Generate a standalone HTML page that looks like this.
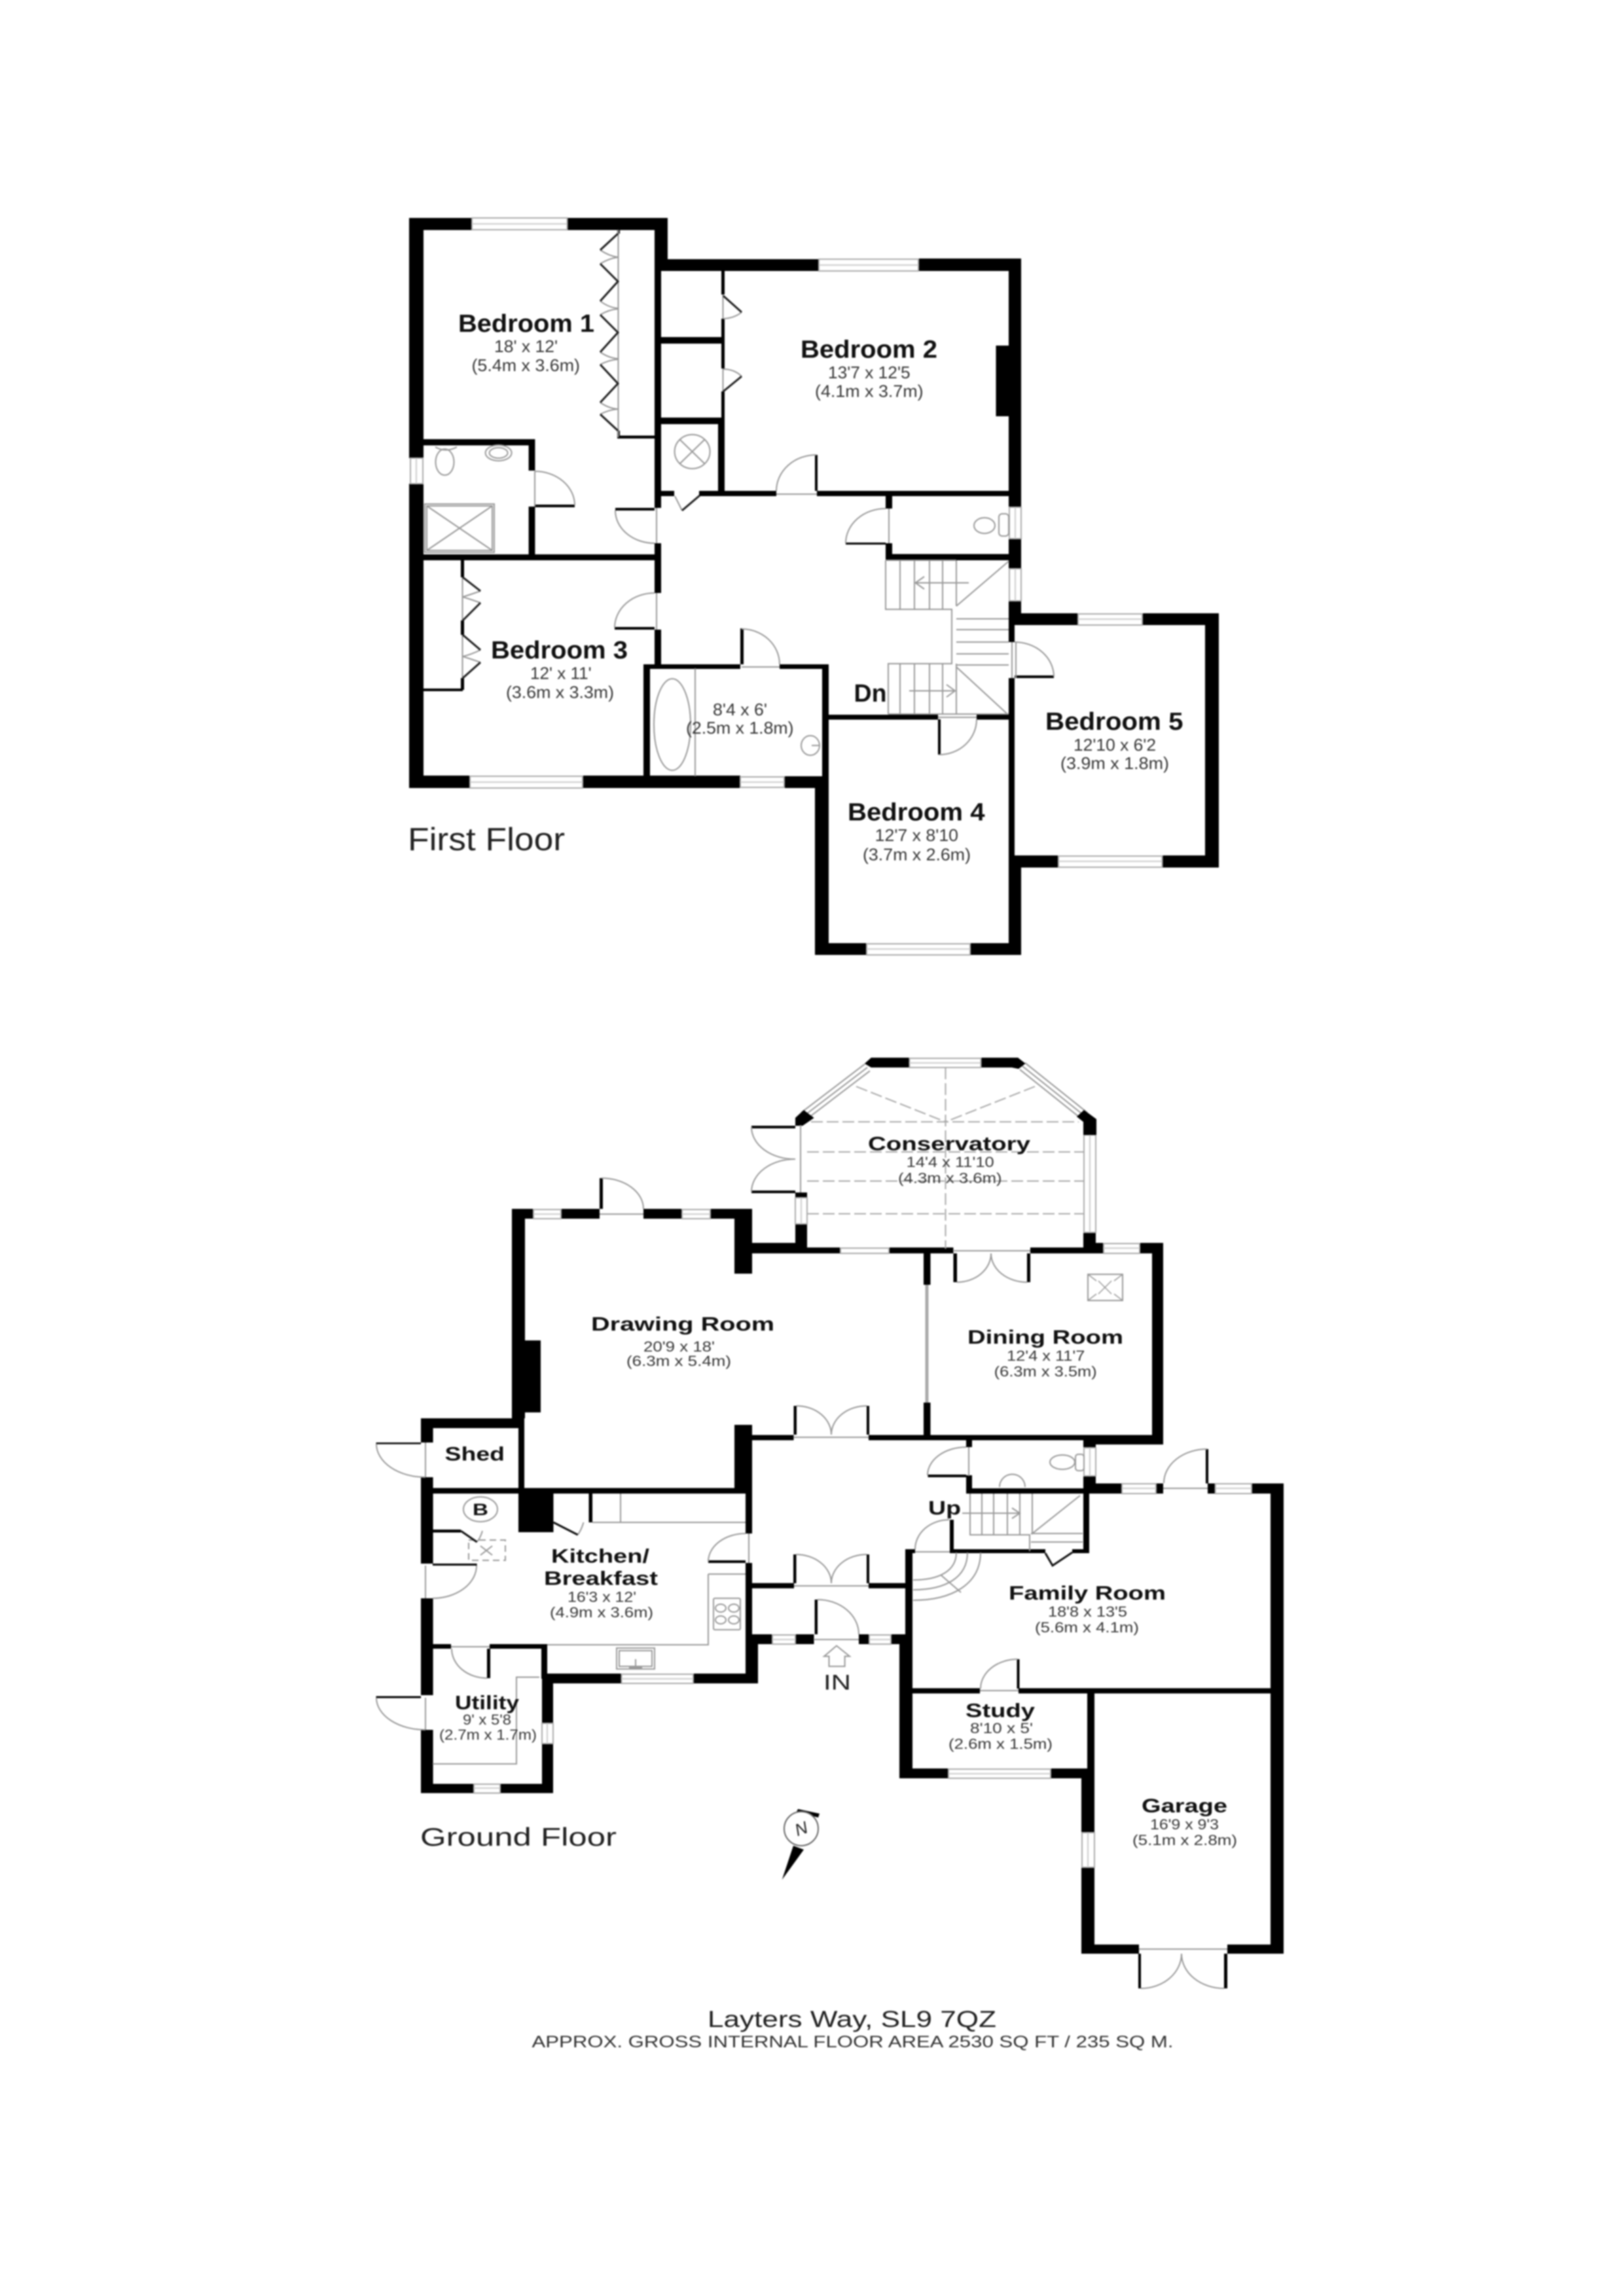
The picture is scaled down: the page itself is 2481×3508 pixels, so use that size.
<!DOCTYPE html>
<html lang="en"><head><meta charset="utf-8"><title>Layters Way floor plan</title>
<style>
html,body{margin:0;padding:0;background:#fff}
svg{display:block;filter:blur(1px)}
text{font-family:"Liberation Sans",Arial,sans-serif}
.b{font-weight:bold;fill:#111}
.d{fill:#383838}
.g{fill:none;stroke:#999;stroke-width:2}
.k{fill:none;stroke:#111;stroke-width:3}
.w{fill:#fff;stroke:#aaa;stroke-width:2}
.m{fill:none;stroke:#ccc;stroke-width:2}
.da{fill:none;stroke:#aaa;stroke-width:2;stroke-dasharray:18 6}
</style></head><body>
<svg xmlns="http://www.w3.org/2000/svg" width="2481" height="3508" viewBox="0 0 2481 3508">
<rect width="2481" height="3508" fill="#fff"/>

<!-- FIRST FLOOR WALLS -->
<path fill="#000" d="
M625 333H721V351.5H625Z M866.5 333H1020V351.5H866.5Z
M1000 333H1020V414H1000Z M1000 414H1010V776H1000Z M1000 830H1010V906H1000Z M1000 962H1010V1015H1000Z
M625 333H647V700H625Z M625 739H647V1204H625Z
M1000 396H1251V414H1000Z M1403 395H1560V414H1403Z
M1541 395H1560V775H1541Z M1541 823H1560V869H1541Z M1541 918H1560V955H1541Z
M647 671H817V680.5H647Z M807.6 671H817.4V719H807.6Z M807.6 774H817.4V848H807.6Z
M647 847H1000V856H647Z
M625 1185H718V1204H625Z M890 1185H1131V1204H890Z M1198 1186H1266V1204H1198Z
M983 1015H1131V1022H983Z M1191 1015H1266V1022H1191Z M983 1015H993V1185H983Z M1256 1015H1266V1186H1256Z
M1256 1092H1433V1099.5H1256Z M1492 1092H1541V1099.5H1492Z
M1245 1186H1266V1459H1245Z M1245 1441H1324V1459H1245Z M1482 1441H1560V1459H1482Z
M1541 1307H1560V1459H1541Z M1541 955H1550V981H1541Z M1541 1036H1550V1307H1541Z
M1560 937H1647V955H1560Z M1745 937H1862V955H1745Z M1841 937H1862V1325.5H1841Z
M1560 1307H1617V1325.5H1560Z M1775.5 1307H1862V1325.5H1775.5Z
M1521.5 528H1541V636H1521.5Z
M1102 414H1107V450H1102Z M1102 487H1107V563H1102Z M1102 598H1107V648H1102Z M1097 648H1107V753H1097Z
M1010 515H1102V525H1010Z M1010 638H1102V648H1010Z
M1010 750H1030V758H1010Z M1068 750H1186V758H1068Z M1248 750H1541V758H1248Z
M1245 695H1249V750H1245Z
M1353 758H1363V777H1353Z M1353 830H1363V856H1353Z M1353 846.5H1541V856H1353Z
M1292 829H1353V832H1292Z
M943 658H947V670H943Z M943 665.5H1000V670H943Z M943 351H947V357H943Z
M817 771H878V775H817Z M940 776H1000V780H940Z M939 958H1000V962H939Z
M1433 1099H1437V1153H1433Z M1550 1032H1610V1036H1550Z M1131 960H1136V1015H1131Z
M704 856H709V882H704Z M704 948H709V970H704Z M704 1036H709V1054H704Z M647 1052H707V1056H647Z
"/>

<!-- GROUND FLOOR WALLS -->
<path fill="#000" d="
M782 1847H815V1862H782Z M857 1847H916V1862H857Z M983 1847H1042V1862H983Z M1085 1847H1149V1862H1085Z
M782 1847H802V2167H782Z M792 2167H801V2282H792Z M802 2048H826V2158H802Z
M916 1800H921V1847H916Z
M643 2167H801V2182H643Z M643 2167H661.6V2204H643Z M643 2257H661.6V2389H643Z M643 2442H661.6V2590H643Z M643 2643H661.6V2739.6H643Z
M661 2273.5H1139V2282H661Z M792 2282H845.5V2341H792Z
M1122 1847H1149V1946H1122Z M1122 2177H1149V2282H1122Z
M1149 1899H1233V1915H1149Z M1233 1906H1284V1915H1233Z M1358 1906H1456.5V1915H1358Z M1574 1906H1655V1915H1574Z M1655 1899H1686V1915H1655Z
M1215 1822H1233V1830H1215Z M1215 1870H1233V1908H1215Z M1655 1883H1674V1912H1655Z
M1148 1720H1215V1724H1148Z M1148 1819H1215V1823H1148Z
M1411 1915H1421.5V1963H1411Z M1411 2143H1421.5V2196H1411Z
M1456.5 1915H1462V1959H1456.5Z M1569 1915H1574V1959H1569Z
M1741 1899H1777V1915H1741Z M1760 1899H1777V2207H1760Z
M1149 2192.5H1212.5V2200.5H1149Z M1327 2192.5H1777V2200.5H1327Z M1655 2200H1777V2207H1655Z
M1476 2200H1485V2211H1476Z M1476 2254H1485V2282H1476Z M1476 2274H1674V2282H1476Z
M1655 2200H1674V2212H1655Z M1655 2255H1674V2282H1655Z
M1674 2266.5H1714V2282H1674Z M1766 2266.5H1777V2282H1766Z M1845 2266.5H1856.6V2282H1845Z M1912 2266.5H1961V2282H1912Z
M1941 2266.5H1961V2985H1941Z
M1417.5 2253H1476V2257H1417.5Z M1842 2214H1846V2266.5H1842Z
M1655 2282H1664V2373H1655Z M1451 2322H1457V2373H1451Z M1451 2367H1597V2373H1451Z M1638 2367H1664V2373H1638Z
M1383 2367H1398V2373H1383Z M1383 2367H1394V2497H1383Z M1374 2497H1394V2717H1374Z
M1149 2418.7H1213V2426.7H1149Z M1327 2418.7H1383V2426.7H1327Z
M1212 2375H1216.5V2419H1212Z M1324 2375H1328V2419H1324Z
M1212.5 2148H1217V2192H1212.5Z M1324 2148H1328V2192H1324Z
M1141 2497H1180V2512H1141Z M1215 2497H1243.5V2512H1215Z M1312 2497H1328V2512H1312Z M1361 2497H1394V2512H1361Z
M1139 2282H1149V2343H1139Z M1139 2388H1149V2497H1139Z M1139 2497H1158V2572H1139Z
M1244.6 2444H1249V2497H1244.6Z
M1394 2579.4H1497V2587.4H1394Z M1556 2579.4H1941V2587.4H1556Z M1553.5 2535H1557.5V2580H1553.5Z
M1661 2587H1672V2702H1661Z M1374 2702H1449V2717H1374Z M1605 2702H1672V2717H1605Z
M1652 2702H1672V2800H1652Z M1652 2853H1672V2985H1652Z
M1652 2971H1740V2985H1652Z M1875 2971H1961V2985H1875Z
M1739 2985H1743V3038H1739Z M1870 2985H1875V3038H1870Z
M829 2557H949.5V2572H829Z M1059 2557H1158V2572H1059Z
M661 2512H689V2519H661Z M748 2512H834V2519H748Z M827 2512H836V2565H827Z
M744 2519H749V2564H744Z
M828 2565H845V2633H828Z M828 2664H845V2739.6H828Z
M643 2725.5H724V2739.6H643Z M764 2725.5H845V2739.6H764Z
M574.5 2591.5H643V2594.5H574.5Z M574.5 2204H643V2206.5H574.5Z
M661 2389H728.6V2392H661Z M1082 2384H1139V2388H1082Z
M661 2337H704V2341.5H661Z M899.5 2282H905V2326H899.5Z
M1321 1625L1331 1616H1389.5V1631H1331Z
M1498.6 1616H1555L1566.5 1625L1556 1633L1546 1631H1498.6Z
M1215 1708L1228 1696L1243.5 1708L1226 1720H1215Z
M1645 1706L1656 1696L1675 1710V1734H1655V1714Z
"/>

<!-- WINDOWS -->
<g class="w">
<rect x="721" y="333" width="145.5" height="18"/><rect x="1251" y="396" width="152" height="18"/>
<rect x="718" y="1186" width="172" height="18"/><rect x="1131" y="1187" width="67" height="16"/>
<rect x="1324" y="1442" width="158" height="17"/><rect x="1647" y="938" width="98" height="17"/>
<rect x="1617" y="1308" width="158.5" height="17"/><rect x="627" y="700" width="19" height="39"/>
<rect x="1542" y="775" width="18" height="48"/><rect x="1542" y="869" width="18" height="49"/>
<rect x="815" y="1848" width="42" height="14"/><rect x="1042" y="1848" width="43" height="14"/>
<rect x="1389.5" y="1617" width="109" height="14"/><rect x="1656" y="1734" width="18" height="149"/>
<rect x="1215" y="1830" width="18" height="40"/><rect x="1284" y="1907" width="74" height="8"/>
<rect x="1686" y="1900" width="55" height="15"/><rect x="1656" y="2212" width="18" height="43"/>
<rect x="1714" y="2267" width="52" height="15"/><rect x="1856.6" y="2267" width="55.4" height="15"/>
<rect x="1180" y="2498" width="35" height="14"/><rect x="1328" y="2498" width="33" height="14"/>
<rect x="949.5" y="2558" width="109.5" height="14"/><rect x="828" y="2633" width="17" height="31"/>
<rect x="724" y="2726" width="40" height="13.6"/><rect x="1449" y="2703" width="156" height="14"/>
<rect x="1653" y="2800" width="19" height="53"/>
</g>
<path class="m" d="M721 342H866M1251 405H1403M718 1195H890M1131 1195H1198M1324 1450H1482M1647 946H1745M1617 1316H1775M636 700V739M1551 775V823M1551 869V918M815 1855H857M1042 1855H1085M1389 1624H1498M1665 1734V1883M1224 1830V1870M1686 1907H1741M1665 2212V2255M1714 2274H1766M1857 2274H1912M1180 2505H1215M1328 2505H1361M949 2565H1059M836 2633V2664M724 2732H764M1449 2710H1605M1662 2800V2853"/>

<!-- CONSERVATORY DIAGONAL WINDOWS -->
<path fill="none" stroke="#999" stroke-width="15" d="M1325 1631L1228 1705M1562 1629L1657 1705"/>
<path fill="none" stroke="#fff" stroke-width="11" d="M1325 1631L1228 1705M1562 1629L1657 1705"/>
<path fill="none" stroke="#999" stroke-width="2" d="M1325 1631L1228 1705M1562 1629L1657 1705"/>
<path fill="#000" d="M1321 1625L1331 1616H1345V1631H1331Z M1546 1616H1555L1566.5 1625L1556 1633L1546 1631Z M1215 1708L1228 1696L1243.5 1708L1226 1720H1215Z M1645 1706L1656 1696L1675 1710V1734H1655V1714Z"/>
<!-- conservatory roof -->
<path class="da" d="M1239 1714H1648M1233 1760H1657M1233 1804.5H1657M1233 1854.5H1657M1444.5 1631V1908M1308 1660L1444.5 1714M1581 1660L1444.5 1714"/>

<!-- DOOR ARCS & THRESHOLDS -->
<path class="g" d="
M878 772A61 52 0 0 0 817 720 M940 780A60 50 0 0 0 1000 830 M939 959A61 53 0 0 1 1000 906
M1133 961A58 54 0 0 1 1191 1015 M1247 695A61 55 0 0 0 1186 750 M1292 830A61 53 0 0 1 1353 777
M1610 1034A60 53 0 0 0 1550 981 M1435 1153A57 54 0 0 0 1492 1099
M817 720V774M1003 776V830M1003 906V962M1133 1019H1191M1186 755H1248M1358 777V830M1546 981V1036M1552 981V1036M1433 1096H1492
M919 1800A64 47 0 0 1 983 1847 M1148 1722A66 49 0 0 0 1215 1771 M1148 1821A66 50 0 0 1 1215 1771
M1462 1959A52 44 0 0 0 1514 1915 M1569 1959A55 44 0 0 1 1514 1915
M1217 2148A53 44 0 0 1 1270 2192 M1324 2148A54 44 0 0 0 1270 2192
M1216 2375A54 44 0 0 1 1270 2419 M1324 2375A54 44 0 0 0 1270 2419
M1417 2254A59 43 0 0 1 1476 2211 M1844 2214A66 52 0 0 0 1778 2266 M1450 2322A52 45 0 0 0 1398 2367
M1249 2444A63 53 0 0 1 1312 2497 M1555 2535A57 45 0 0 0 1498 2580
M1743 3038A62 53 0 0 0 1805 2985 M1870 3038A65 53 0 0 1 1805 2985
M575 2206A75 51 0 0 0 650 2257 M728 2392A67 50 0 0 1 661 2442 M1082 2386A57 43 0 0 1 1139 2343
M744 2564A54 45 0 0 1 690 2519 M575 2594A75 49 0 0 0 650 2643
M916 1855H983 M1223 1719V1822 M1456 1911H1574 M1213 2196H1327 M1213 2423H1327 M1243 2505H1312
M1740 2978H1875 M1777 2274H1845 M1497 2583H1556 M1480 2211V2255 M650 2204V2257 M650 2392V2442 M650 2594V2643 M1144 2343V2388 M689 2516H748
M1398 2371H1451
"/>
<path fill="none" stroke="#aaa" stroke-width="5" d="M1416 1963V2143"/>

<!-- FIRST FLOOR FIXTURES -->
<path class="g" d="
M944.5 351V668
M917 382Q930 391 944 393 M944 393Q930 395 917 403
M917 460Q930 470 944 471 M944 472Q930 473 917 481
M917 538Q930 547 944 548 M944 549Q930 550 917 557
M917 615Q930 624 944 625 M944 625Q930 626 917 633
M706.5 882V948 M706.5 970V1036
M734 903Q720 908 707 912 M707 912Q720 916 734 921 M734 993Q720 1000 707 1003 M707 1003Q720 1007 734 1012
M1104.5 450V487 M1104.5 563V598 M1133 477Q1122 486 1105 487 M1105 564Q1122 564 1133 575
M1062 1021V1186
M1031 758L1042 780
"/>
<path fill="none" stroke="#222" stroke-width="3" d="
M944 357L917 382 M917 403L944 430L917 460 M917 481L944 508L917 538 M917 557L944 586L917 615 M917 633L944 658
M707 882L734 903 M734 921L707 948 M707 970L734 993 M734 1012L707 1036
M1105 452L1133 477 M1133 575L1105 598
M1042 780L1069 757
"/>
<g class="g">
<ellipse cx="679.5" cy="706" rx="14" ry="20"/><path d="M665 683Q681 692 698 683"/>
<ellipse cx="761.6" cy="692" rx="20" ry="12"/><ellipse cx="761.6" cy="692" rx="14" ry="8"/>
<rect x="649" y="770" width="106" height="74"/><rect x="652" y="773" width="100" height="68"/>
<path d="M652 773L752 841M752 773L652 841"/>
<ellipse cx="1027" cy="1107" rx="28" ry="70"/>
<ellipse cx="1238" cy="1139" rx="14" ry="15"/><path d="M1240 1139H1253"/>
<ellipse cx="1057.6" cy="690" rx="27" ry="26"/><path d="M1039 672L1076 708M1076 672L1039 708"/>
<ellipse cx="1504" cy="803" rx="16" ry="12"/><rect x="1526" y="785" width="15" height="34" rx="5"/>
<path d="M1353 856V931H1454V1014H1357V1091M1353 856H1461M1375 856V931M1397 856V931M1420 856V931M1440 856V931M1461 856V926
M1375 1014V1091M1397 1014V1091M1420 1014V1091M1440 1014V1091M1461 1014V1091M1357 1091H1541
M1461 926L1541 857.5M1461 1019L1539 1091
M1461 945.5H1541M1461 962H1541M1461 981H1541M1461 999H1541M1461 1016H1541
M1480 890.5H1398.5M1412 881L1398.5 890.5L1412 900 M1389 1055.5H1459M1446 1046L1459 1055.5L1446 1065"/>
</g>

<!-- GROUND FLOOR FIXTURES -->
<g class="g">
<rect x="1662" y="1947" width="53" height="40"/><path d="M1678 1957L1698 1977M1698 1957L1678 1977M1662 1947L1675 1957M1715 1947L1702 1957M1662 1987L1675 1977M1715 1987L1702 1977" stroke-width="1.5"/>
<ellipse cx="1623" cy="2234" rx="19" ry="11"/><rect x="1643" y="2222" width="13" height="25" rx="4"/>
<path d="M1527 2272A19 19 0 0 1 1566 2272"/>
<path d="M1482 2282V2345H1573V2370M1500 2282V2345M1518 2282V2345M1539 2282V2345M1558 2282V2345M1577 2282V2343L1650 2285M1575 2343H1654M1575 2356H1654"/>
<path d="M1470 2312H1558M1546 2304L1558 2312L1546 2320"/>
<path d="M1461 2372C1461 2400 1435 2414 1395 2414M1478 2372C1478 2410 1445 2429 1395 2429M1498 2372C1498 2420 1455 2445 1395 2445M1438 2407L1468 2433"/>
<path d="M1278 2514.5L1259 2530.6H1266.5V2546H1290.6V2530.6H1298Z"/>
<path d="M905 2326H1139M948 2282V2326M1082 2405H1139M1082 2405V2513H836"/>
<rect x="1090" y="2442" width="41" height="48" rx="2"/>
<ellipse cx="1101" cy="2457" rx="8" ry="6"/><ellipse cx="1121" cy="2457" rx="8" ry="6"/><ellipse cx="1101" cy="2475" rx="8" ry="6"/><ellipse cx="1121" cy="2475" rx="8" ry="6"/>
<rect x="942" y="2518" width="58" height="32"/><rect x="946" y="2522" width="50" height="24"/><path d="M971 2535V2548M961 2548H981"/>
<path d="M824 2562.5H789V2695H661"/>
<path d="M716 2353H772V2384H716Z" stroke-dasharray="10 6"/><path d="M734 2362L752 2376M752 2362L734 2376"/>
<path d="M737 2339Q733 2352 728 2356M891.5 2326Q888 2338 882.6 2345"/>
<ellipse cx="734" cy="2306" rx="26" ry="19"/>
</g>
<path class="k" d="M704 2339L728.6 2356M845.5 2326L882.6 2345M1597 2373L1608 2392L1638 2372"/>

<!-- NORTH -->
<path fill="#000" d="M1217 2768L1219 2764L1252 2771L1250 2777Z M1194.7 2872L1212 2820L1228 2826Z"/>
<circle cx="1224" cy="2794" r="26" fill="#fff" stroke="#666" stroke-width="2"/>
<text x="1224" y="2803" text-anchor="middle" font-size="26" font-style="italic" fill="#222" transform="rotate(-20 1224 2794)">N</text>

<!-- FIRST FLOOR LABELS -->
<g class="b" font-size="38">
<text x="700" y="507" textLength="208" lengthAdjust="spacingAndGlyphs">Bedroom 1</text>
<text x="750" y="1006" textLength="209" lengthAdjust="spacingAndGlyphs">Bedroom 3</text>
<text x="1223" y="546.5" textLength="209" lengthAdjust="spacingAndGlyphs">Bedroom 2</text>
<text x="1295" y="1253.5" textLength="209.5" lengthAdjust="spacingAndGlyphs">Bedroom 4</text>
<text x="1597" y="1115" textLength="210.5" lengthAdjust="spacingAndGlyphs">Bedroom 5</text>
<text x="1304.5" y="1072" textLength="50" lengthAdjust="spacingAndGlyphs">Dn</text>
</g>
<g class="d" font-size="26">
<text x="755" y="538" textLength="97" lengthAdjust="spacingAndGlyphs">18' x 12'</text>
<text x="720.5" y="567" textLength="165.5" lengthAdjust="spacingAndGlyphs">(5.4m x 3.6m)</text>
<text x="810" y="1037.6" textLength="93.6" lengthAdjust="spacingAndGlyphs">12' x 11'</text>
<text x="773" y="1066.6" textLength="165" lengthAdjust="spacingAndGlyphs">(3.6m x 3.3m)</text>
<text x="1089" y="1093" textLength="83" lengthAdjust="spacingAndGlyphs">8'4 x 6'</text>
<text x="1048" y="1121" textLength="164.5" lengthAdjust="spacingAndGlyphs">(2.5m x 1.8m)</text>
<text x="1265" y="578" textLength="125.6" lengthAdjust="spacingAndGlyphs">13'7 x 12'5</text>
<text x="1245" y="606.7" textLength="165.6" lengthAdjust="spacingAndGlyphs">(4.1m x 3.7m)</text>
<text x="1336.7" y="1285" textLength="127.3" lengthAdjust="spacingAndGlyphs">12'7 x 8'10</text>
<text x="1318" y="1314.5" textLength="165" lengthAdjust="spacingAndGlyphs">(3.7m x 2.6m)</text>
<text x="1640" y="1147" textLength="126" lengthAdjust="spacingAndGlyphs">12'10 x 6'2</text>
<text x="1620" y="1175" textLength="166" lengthAdjust="spacingAndGlyphs">(3.9m x 1.8m)</text>
</g>
<text x="623" y="1299" font-size="49" fill="#222" textLength="240" lengthAdjust="spacingAndGlyphs">First Floor</text>

<!-- GROUND FLOOR LABELS -->
<g class="b" font-size="30">
<text x="903" y="2033" textLength="280" lengthAdjust="spacingAndGlyphs">Drawing Room</text>
<text x="1326" y="1757.7" textLength="248" lengthAdjust="spacingAndGlyphs">Conservatory</text>
<text x="1478" y="2053" textLength="238" lengthAdjust="spacingAndGlyphs">Dining Room</text>
<text x="679.5" y="2231.7" textLength="91.5" lengthAdjust="spacingAndGlyphs">Shed</text>
<text x="842" y="2387.6" textLength="150" lengthAdjust="spacingAndGlyphs">Kitchen/</text>
<text x="831" y="2421.6" textLength="174" lengthAdjust="spacingAndGlyphs">Breakfast</text>
<text x="695" y="2611.4" textLength="98" lengthAdjust="spacingAndGlyphs">Utility</text>
<text x="1541" y="2444" textLength="240" lengthAdjust="spacingAndGlyphs">Family Room</text>
<text x="1475" y="2623.6" textLength="106" lengthAdjust="spacingAndGlyphs">Study</text>
<text x="1744" y="2769" textLength="131" lengthAdjust="spacingAndGlyphs">Garage</text>
<text x="1418" y="2314" textLength="50" lengthAdjust="spacingAndGlyphs">Up</text>
<text x="722" y="2315" font-size="25" textLength="24" lengthAdjust="spacingAndGlyphs">B</text>
</g>
<g class="d" font-size="22">
<text x="983" y="2065" textLength="109" lengthAdjust="spacingAndGlyphs">20'9 x 18'</text>
<text x="957" y="2087" textLength="160" lengthAdjust="spacingAndGlyphs">(6.3m x 5.4m)</text>
<text x="1384.7" y="1783" textLength="134" lengthAdjust="spacingAndGlyphs">14'4 x 11'10</text>
<text x="1372" y="1807.7" textLength="158.6" lengthAdjust="spacingAndGlyphs">(4.3m x 3.6m)</text>
<text x="1538" y="2079" textLength="119.4" lengthAdjust="spacingAndGlyphs">12'4 x 11'7</text>
<text x="1518.7" y="2103" textLength="157" lengthAdjust="spacingAndGlyphs">(6.3m x 3.5m)</text>
<text x="867" y="2447.7" textLength="105" lengthAdjust="spacingAndGlyphs">16'3 x 12'</text>
<text x="840" y="2471" textLength="158" lengthAdjust="spacingAndGlyphs">(4.9m x 3.6m)</text>
<text x="707" y="2635" textLength="74" lengthAdjust="spacingAndGlyphs">9' x 5'8</text>
<text x="671" y="2658" textLength="149" lengthAdjust="spacingAndGlyphs">(2.7m x 1.7m)</text>
<text x="1601" y="2470" textLength="121" lengthAdjust="spacingAndGlyphs">18'8 x 13'5</text>
<text x="1581" y="2494" textLength="159" lengthAdjust="spacingAndGlyphs">(5.6m x 4.1m)</text>
<text x="1482" y="2648" textLength="96" lengthAdjust="spacingAndGlyphs">8'10 x 5'</text>
<text x="1449" y="2672" textLength="159" lengthAdjust="spacingAndGlyphs">(2.6m x 1.5m)</text>
<text x="1757" y="2795" textLength="105" lengthAdjust="spacingAndGlyphs">16'9 x 9'3</text>
<text x="1730" y="2819" textLength="160" lengthAdjust="spacingAndGlyphs">(5.1m x 2.8m)</text>
</g>
<text x="1258" y="2581.7" font-size="32" fill="#222" textLength="42" lengthAdjust="spacingAndGlyphs">IN</text>
<text x="642" y="2820" font-size="39" fill="#222" textLength="300" lengthAdjust="spacingAndGlyphs">Ground Floor</text>
<text x="1081" y="3097" font-size="35" fill="#222" textLength="441" lengthAdjust="spacingAndGlyphs">Layters Way, SL9 7QZ</text>
<text x="812.5" y="3128" font-size="25" fill="#333" textLength="980" lengthAdjust="spacingAndGlyphs">APPROX. GROSS INTERNAL FLOOR AREA 2530 SQ FT / 235 SQ M.</text>
</svg>
</body></html>
